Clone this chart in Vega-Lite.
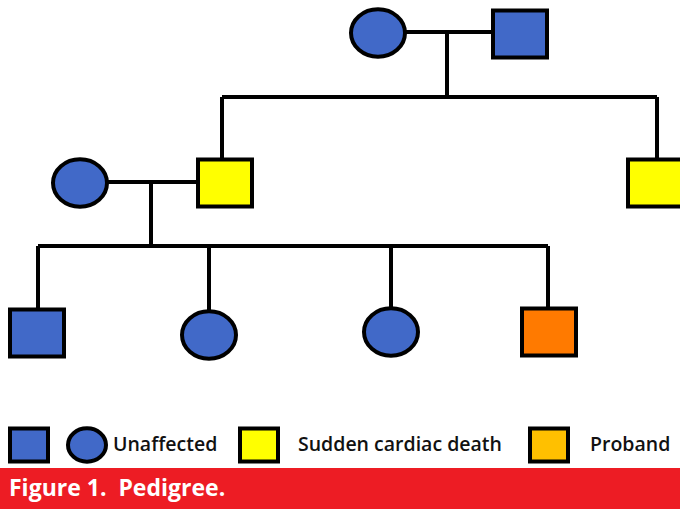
{
  "$schema": "https://vega.github.io/schema/vega-lite/v6.json",
  "width": 680,
  "height": 509,
  "autosize": {"type": "none"},
  "padding": 0,
  "background": "white",
  "config": {"view": {"stroke": null}},
  "datasets": {
    "banner": [{"x1": 0, "x2": 680, "y1": 468, "y2": 509, "caption": "Figure 1.\u00a0 Pedigree."}],
    "lines": [
      {"x1": 404, "y1": 32, "x2": 492, "y2": 32},
      {"x1": 447, "y1": 32, "x2": 447, "y2": 97},
      {"x1": 222, "y1": 97, "x2": 657, "y2": 97},
      {"x1": 222, "y1": 97, "x2": 222, "y2": 160},
      {"x1": 657, "y1": 97, "x2": 657, "y2": 160},
      {"x1": 107, "y1": 182, "x2": 198, "y2": 182},
      {"x1": 151, "y1": 182, "x2": 151, "y2": 246},
      {"x1": 38, "y1": 246, "x2": 548, "y2": 246},
      {"x1": 38, "y1": 246, "x2": 38, "y2": 310},
      {"x1": 209, "y1": 246, "x2": 209, "y2": 313},
      {"x1": 391, "y1": 246, "x2": 391, "y2": 308},
      {"x1": 548, "y1": 246, "x2": 548, "y2": 309}
    ],
    "people": [
      {"id": "I-1", "sex": "F", "status": "Unaffected", "x": 378, "y": 33},
      {"id": "I-2", "sex": "M", "status": "Unaffected", "x": 520, "y": 34},
      {"id": "II-1", "sex": "F", "status": "Unaffected", "x": 80, "y": 183},
      {"id": "II-2", "sex": "M", "status": "Sudden cardiac death", "x": 225, "y": 183},
      {"id": "II-3", "sex": "M", "status": "Sudden cardiac death", "x": 655, "y": 183},
      {"id": "III-1", "sex": "M", "status": "Unaffected", "x": 37, "y": 333},
      {"id": "III-2", "sex": "F", "status": "Unaffected", "x": 209, "y": 335},
      {"id": "III-3", "sex": "F", "status": "Unaffected", "x": 391, "y": 332},
      {"id": "III-4", "sex": "M", "status": "Proband", "x": 549, "y": 332}
    ],
    "key": [
      {"sex": "M", "status": "Unaffected", "x": 29, "y": 445},
      {"sex": "F", "status": "Unaffected", "x": 87, "y": 445},
      {"sex": "M", "status": "Sudden cardiac death", "x": 259, "y": 445},
      {"sex": "M", "status": "Proband key", "x": 549, "y": 445}
    ],
    "keytext": [
      {"label": "Unaffected", "x": 113, "y": 445},
      {"label": "Sudden cardiac death", "x": 298, "y": 445},
      {"label": "Proband", "x": 590, "y": 445}
    ]
  },
  "layer": [
    {
      "data": {"name": "banner"},
      "mark": {"type": "rect", "color": "#ED1C24"},
      "encoding": {
        "x": {"field": "x1", "type": "quantitative", "scale": {"domain": [0, 680], "nice": false, "zero": false}, "axis": null},
        "x2": {"field": "x2"},
        "y": {"field": "y1", "type": "quantitative", "scale": {"domain": [0, 509], "nice": false, "zero": false, "reverse": true}, "axis": null},
        "y2": {"field": "y2"}
      }
    },
    {
      "data": {"name": "banner"},
      "mark": {"type": "text", "color": "white", "font": "Open Sans", "fontWeight": "bold", "fontSize": 23, "align": "left", "baseline": "middle", "dx": 9, "dy": 21},
      "encoding": {
        "x": {"field": "x1", "type": "quantitative"},
        "y": {"field": "y1", "type": "quantitative"},
        "text": {"field": "caption"}
      }
    },
    {
      "data": {"name": "lines"},
      "mark": {"type": "rule", "color": "black", "strokeWidth": 4},
      "encoding": {
        "x": {"field": "x1", "type": "quantitative"},
        "y": {"field": "y1", "type": "quantitative"},
        "x2": {"field": "x2"},
        "y2": {"field": "y2"}
      }
    },
    {
      "data": {"name": "people"},
      "mark": {"type": "point", "filled": true, "size": 2916, "stroke": "black", "strokeWidth": 4, "opacity": 1, "fillOpacity": 1, "strokeOpacity": 1},
      "encoding": {
        "x": {"field": "x", "type": "quantitative"},
        "y": {"field": "y", "type": "quantitative"},
        "shape": {"field": "sex", "type": "nominal", "scale": {"domain": ["M", "F"], "range": ["M-1,-0.87H1V0.87H-1Z", "M-1,0A1,0.88,0,1,0,1,0A1,0.88,0,1,0,-1,0Z"]}, "legend": null},
        "fill": {"field": "status", "type": "nominal", "scale": {"domain": ["Unaffected", "Sudden cardiac death", "Proband", "Proband key"], "range": ["#4169C8", "#FFFF00", "#FF7A00", "#FFC000"]}, "legend": null}
      }
    },
    {
      "data": {"name": "key"},
      "mark": {"type": "point", "filled": true, "size": 1444, "stroke": "black", "strokeWidth": 4, "opacity": 1, "fillOpacity": 1, "strokeOpacity": 1},
      "encoding": {
        "x": {"field": "x", "type": "quantitative"},
        "y": {"field": "y", "type": "quantitative"},
        "shape": {"field": "sex", "type": "nominal", "legend": null},
        "fill": {"field": "status", "type": "nominal", "legend": null}
      }
    },
    {
      "data": {"name": "keytext"},
      "mark": {"type": "text", "color": "#111", "font": "Open Sans", "fontWeight": 600, "fontSize": 19.5, "align": "left", "baseline": "middle"},
      "encoding": {
        "x": {"field": "x", "type": "quantitative"},
        "y": {"field": "y", "type": "quantitative"},
        "text": {"field": "label"}
      }
    }
  ]
}
